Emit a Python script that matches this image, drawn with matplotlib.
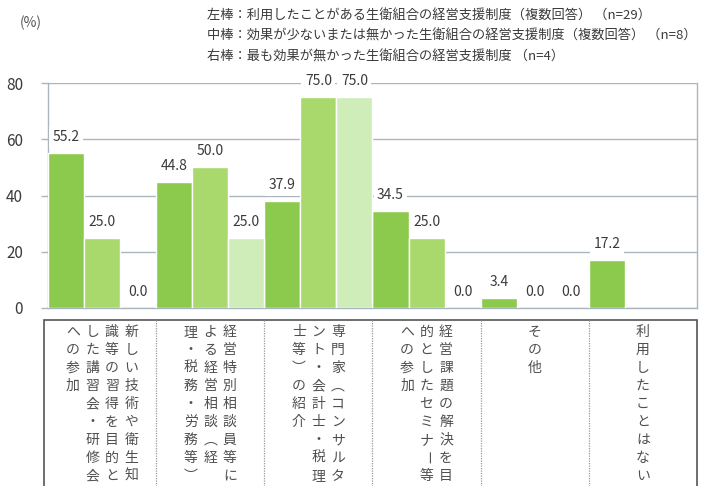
import numpy as np
import matplotlib
matplotlib.use("Agg")
import matplotlib.pyplot as plt
import matplotlib.transforms as mtransforms
from matplotlib.patches import Rectangle
from matplotlib.lines import Line2D

plt.rcParams['font.family'] = ['Noto Sans CJK JP', 'DejaVu Sans']

# 支援制度ごとの回答割合（%）
categories = [
    "新しい技術や衛生知識等の習得を目的とした講習会・研修会への参加",
    "経営特別相談員等による経営相談（経理・税務・労務等）",
    "専門家（コンサルタント・会計士・税理士等）の紹介",
    "経営課題の解決を目的としたセミナー等への参加",
    "その他",
    "利用したことはない",
]
# 縦書きにしたときの各行（右の行から）
label_columns = [
    ["新しい技術や衛生知", "識等の習得を目的と", "した講習会・研修会", "への参加"],
    ["経営特別相談員等に", "よる経営相談（経", "理・税務・労務等）"],
    ["専門家（コンサルタ", "ント・会計士・税理", "士等）の紹介"],
    ["経営課題の解決を目", "的としたセミナー等", "への参加"],
    ["その他"],
    ["利用したことはない"],
]
left_values = [55.2, 44.8, 37.9, 34.5, 3.4, 17.2]
mid_values = [25.0, 50.0, 75.0, 25.0, 0.0, np.nan]
right_values = [0.0, 25.0, 75.0, 0.0, 0.0, np.nan]
series_colors = ["#8cca4e", "#a9d96c", "#cfedb9"]
legend_lines = [
    "左棒：利用したことがある生衛組合の経営支援制度（複数回答） （n=29）",
    "中棒：効果が少ないまたは無かった生衛組合の経営支援制度（複数回答） （n=8）",
    "右棒：最も効果が無かった生衛組合の経営支援制度 （n=4）",
]
y_ticks = [0, 20, 40, 60, 80]

W, H = 704, 486
fig = plt.figure(figsize=(W / 100, H / 100), dpi=100)
ax = fig.add_axes([48 / W, 1 - 308 / H, (697 - 48) / W, (308 - 83) / H])

grid_c = "#aab6bd"
text_c = "#3a3a3a"

n_groups = len(categories)
series = [left_values, mid_values, right_values]
for s, (vals, col) in enumerate(zip(series, series_colors)):
    xs = np.arange(n_groups) * 3 + s
    for x, v in zip(xs, vals):
        if np.isnan(v):
            continue
        ax.bar(x, v, width=1.0, color=col, edgecolor="white", linewidth=1.0, zorder=3)
        ax.annotate(f"{v:.1f}", (x, v), xytext=(0, 9), textcoords="offset pixels",
                    ha="center", va="bottom", fontsize=10, color=text_c, zorder=5,
                    bbox=dict(boxstyle="square,pad=0.25", fc="white", ec="none"))

ax.set_xlim(-0.5, 17.5)
ax.set_ylim(0, 80)
ax.set_yticks(y_ticks)
ax.set_yticklabels([str(t) for t in y_ticks], fontsize=11, color=text_c)
ax.set_xticks([])
ax.yaxis.grid(True, color=grid_c, linewidth=1.0, zorder=0)
ax.tick_params(axis="y", length=5, width=1.0, color=grid_c, pad=13)
for side in ["left", "right", "bottom"]:
    ax.spines[side].set_color(grid_c)
    ax.spines[side].set_linewidth(1.0)
ax.spines["top"].set_visible(False)
ax.set_axisbelow(True)

fig.text(20 / W, 1 - 23 / H, "(%)", fontsize=10, color="#555555", va="center")

for i, line in enumerate(legend_lines):
    fig.text(207 / W, 1 - (16 + 20.5 * i) / H, line, fontsize=9.5, color=text_c,
             va="center", ha="left")

# 項目名の枠
box_top, box_bottom = 320, 492
fig.patches.append(Rectangle((44 / W, 1 - box_bottom / H), (697 - 44) / W,
                             (box_bottom - box_top) / H, transform=fig.transFigure,
                             fill=False, ec="#555555", lw=1.2, clip_on=False))
xfig = mtransforms.blended_transform_factory(ax.transData, fig.transFigure)
for g in range(1, n_groups):
    xb = g * 3 - 0.5
    fig.lines.append(Line2D([xb, xb], [1 - box_top / H, 1 - box_bottom / H],
                            transform=xfig, color="#999999", lw=0.9, ls=(0, (1, 1))))

# 縦書きの項目名（括弧と長音は縦書き用の字形にする）
vertical_forms = {"（": "\ufe35", "）": "\ufe36"}
col_step = 19.5
row_step = 18.0
first_row = 332
for g, cols in enumerate(label_columns):
    cx = g * 3 + 1
    n = len(cols)
    for ci, col_text in enumerate(cols):
        dx = ((n - 1) / 2 - ci) * col_step
        tr = xfig + mtransforms.ScaledTranslation(dx / 100, 0, fig.dpi_scale_trans)
        for ri, ch in enumerate(col_text):
            y = 1 - (first_row + ri * row_step) / H
            rot = 270 if ch == "ー" else 0
            fig.text(cx, y, vertical_forms.get(ch, ch), transform=tr, fontsize=10,
                     color="#505050", ha="center", va="center", rotation=rot)

fig.savefig("out.png", dpi=100)
